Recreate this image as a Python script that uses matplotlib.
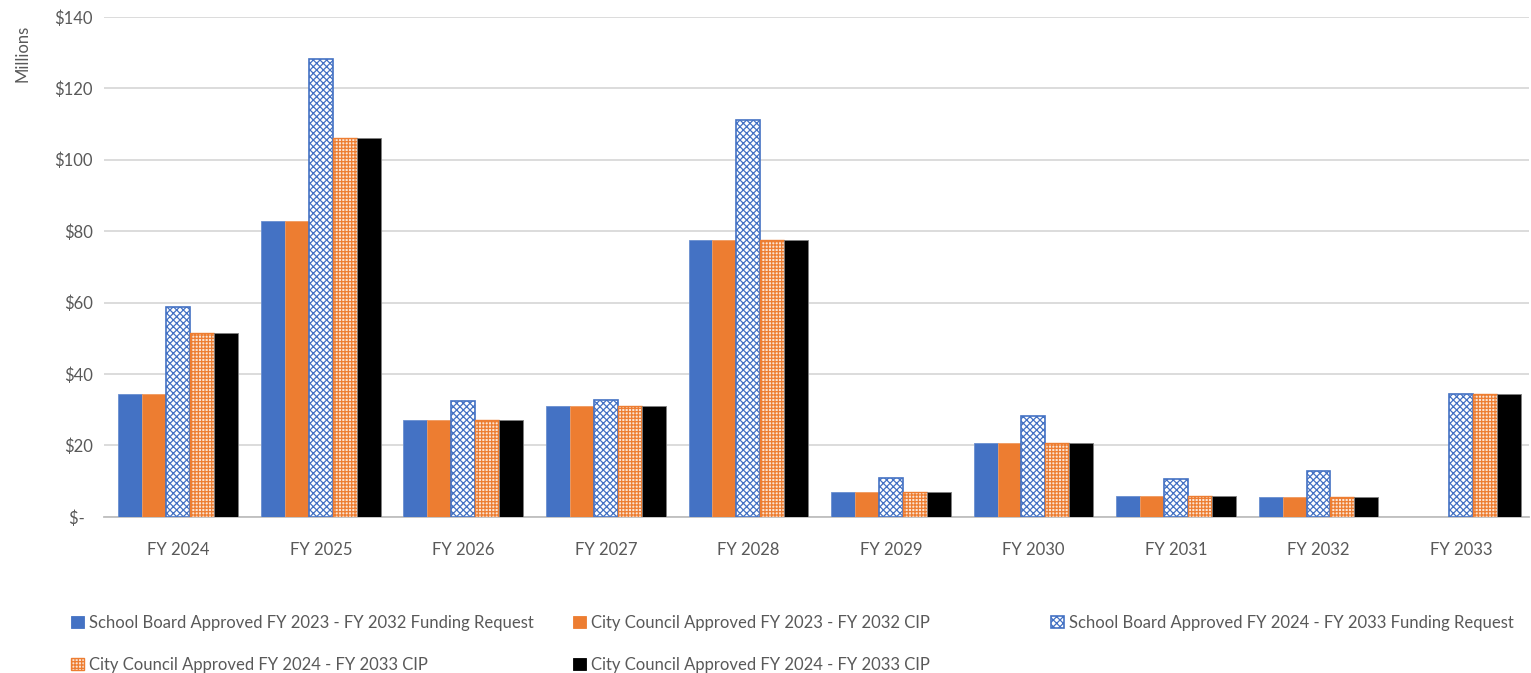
import numpy as np
import matplotlib.pyplot as plt
from matplotlib.patches import Patch

plt.rcParams['font.family'] = ['Lato', 'DejaVu Sans']
plt.rcParams['hatch.linewidth'] = 0.9

years = ["FY 2024", "FY 2025", "FY 2026", "FY 2027", "FY 2028",
         "FY 2029", "FY 2030", "FY 2031", "FY 2032", "FY 2033"]

sb_2023 = [34.5, 82.8, 27.2, 31.0, 77.6, 7.0, 20.6, 5.9, 5.6, 0]
cc_2023 = [34.5, 82.8, 27.2, 31.0, 77.6, 7.0, 20.6, 5.9, 5.6, 0]
sb_2024 = [58.8, 128.3, 32.5, 32.8, 111.2, 10.9, 28.3, 10.6, 12.8, 34.5]
cc_2024 = [51.5, 106.1, 27.2, 31.0, 77.6, 7.0, 20.6, 5.9, 5.6, 34.5]
cc_2024b = [51.5, 106.1, 27.2, 31.0, 77.6, 7.0, 20.6, 5.9, 5.6, 34.5]

labels = ["School Board Approved FY 2023 - FY 2032 Funding Request",
          "City Council Approved FY 2023 - FY 2032 CIP",
          "School Board Approved FY 2024 - FY 2033 Funding Request",
          "City Council Approved FY 2024 - FY 2033 CIP",
          "City Council Approved FY 2024 - FY 2033 CIP"]

blue = "#4472C4"
orange = "#ED7D31"
grey = "#595959"

fig = plt.figure(figsize=(15.31, 6.73), dpi=100)
ax = fig.add_axes([0.068, 0.232, 0.931, 0.743])

x = np.arange(len(years))
w = 0.168
styles = [
    dict(color=blue, edgecolor="#6A8FD0", linewidth=0.6),
    dict(color=orange, edgecolor="#F09A60", linewidth=0.6),
    dict(facecolor="white", edgecolor=blue, hatch="xxxxx", linewidth=1.2),
    dict(facecolor="#FBE3D3", edgecolor=orange, hatch="+++++", linewidth=1.0),
    dict(color="black", edgecolor="#7F7F7F", linewidth=0.6),
]
series = [sb_2023, cc_2023, sb_2024, cc_2024, cc_2024b]
handles = []
for i, (vals, st) in enumerate(zip(series, styles)):
    ax.bar(x + (i - 2) * w, vals, w, zorder=3, **st)
    handles.append(Patch(label=labels[i], **st))

ax.set_xlim(-0.52, 9.48)
ax.set_ylim(0, 140)
ax.set_yticks(np.arange(0, 141, 20))
ax.set_yticklabels(["$-  "] + [f"${v}" for v in range(20, 141, 20)])
ax.set_xticks(x)
ax.set_xticklabels(years)
ax.grid(axis="y", color="#D9D9D9", linewidth=1.3, zorder=0)
for s in ["top", "right", "left"]:
    ax.spines[s].set_visible(False)
ax.spines["bottom"].set_color("#BFBFBF")
ax.spines["bottom"].set_linewidth(1.3)
ax.tick_params(axis="both", length=0, labelsize=12, colors=grey)
ax.tick_params(axis="x", pad=18)
ax.tick_params(axis="y", pad=8)

fig.text(0.015, 0.92, "Millions", rotation=90, ha="center", va="center",
         fontsize=12, color=grey)

# legend: three columns placed like the original
cols = [([handles[0], handles[3]], 0.0465), ([handles[1], handles[4]], 0.3745),
        ([handles[2]], 0.6865)]
for hs, xpos in cols:
    leg = fig.legend(handles=hs, loc="upper left", bbox_to_anchor=(xpos, 0.086),
                     frameon=False, fontsize=12, handlelength=0.75, handleheight=0.75,
                     handletextpad=0.3, labelspacing=1.55, borderaxespad=0,
                     borderpad=0)
    for t in leg.get_texts():
        t.set_color(grey)

fig.savefig("out.png", dpi=100)
